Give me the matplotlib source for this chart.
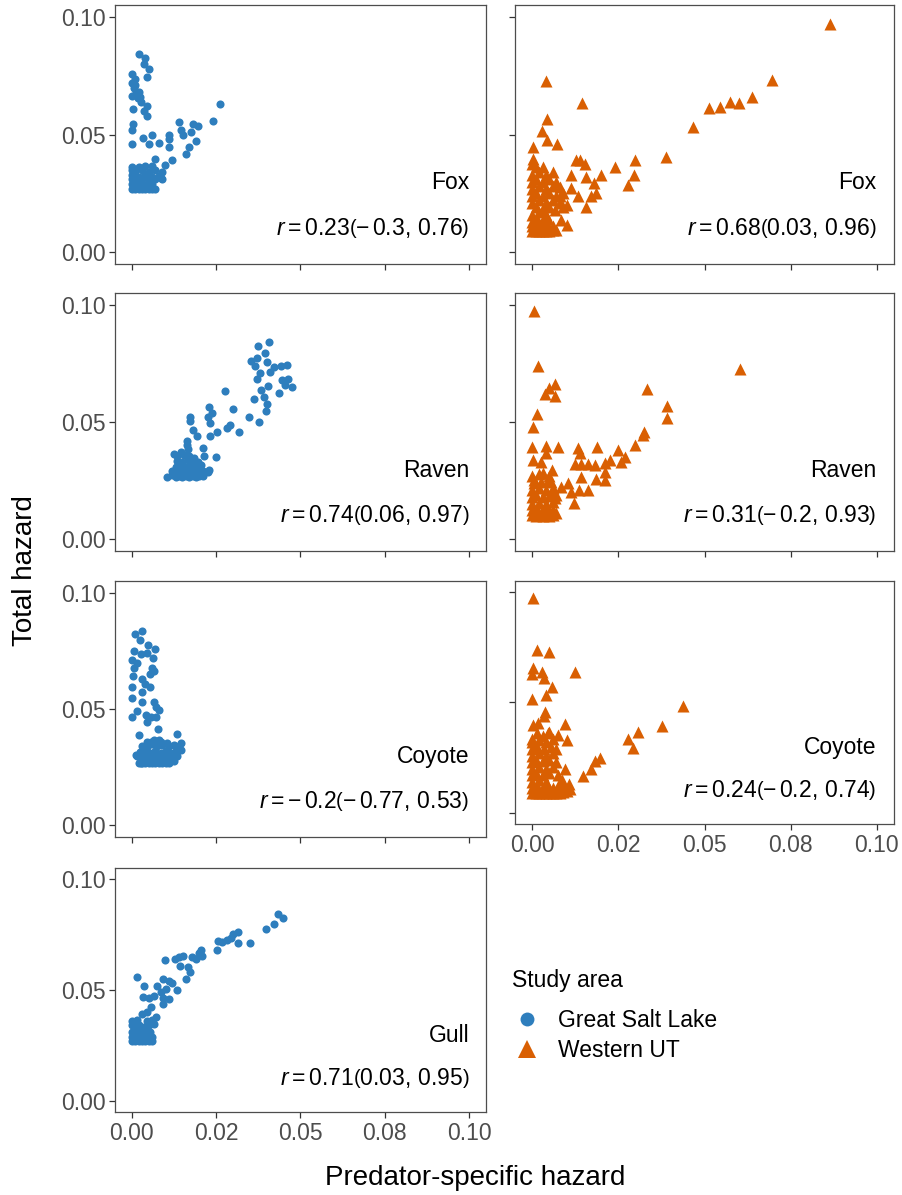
import matplotlib
matplotlib.use("Agg")
import matplotlib.pyplot as plt
from matplotlib.lines import Line2D

plt.rcParams['font.family'] = ['Liberation Sans', 'DejaVu Sans']
plt.rcParams['mathtext.fontset'] = 'custom'
plt.rcParams['mathtext.rm'] = 'Liberation Sans'
plt.rcParams['mathtext.it'] = 'Liberation Sans:italic'

BLUE = '#2E7EBD'
ORANGE = '#D95F02'

xtick_vals = [0, 0.025, 0.05, 0.075, 0.1]
xtick_labels = ['0.00', '0.02', '0.05', '0.08', '0.10']
ytick_vals = [0, 0.05, 0.1]
ytick_labels = ['0.00', '0.05', '0.10']

# ---- Great Salt Lake: Fox
gsl_fox_x = [0.002, 0.004, 0.0035, 0.005, 0.000, 0.001, 0.0045, 0.000, 0.0007, 0.000, 0.0017, 0.0027,
             0.0045, 0.0002, 0.0045, 0.0035, 0.0004, 0.000, 0.000, 0.0032, 0.006, 0.005, 0.008, 0.011,
             0.011, 0.011, 0.014, 0.0145, 0.0153, 0.018, 0.0195, 0.0175, 0.019, 0.017, 0.016, 0.024,
             0.026, 0.012, 0.0099, 0.007, 0.009, 0.001, 0.002, 0.0025, 0.0012,
             0.000, 0.001, 0.002, 0.003, 0.004, 0.005, 0.006, 0.007, 0.000, 0.002, 0.004, 0.006,
             0.000, 0.001, 0.003, 0.005, 0.007, 0.000, 0.002, 0.004, 0.006, 0.008, 0.000, 0.001,
             0.003, 0.005, 0.007, 0.000, 0.002, 0.004, 0.006, 0.001, 0.003, 0.005, 0.009, 0.0086]
gsl_fox_y = [0.084, 0.0825, 0.080, 0.0777, 0.0758, 0.0737, 0.0744, 0.072, 0.0697, 0.0665, 0.0654, 0.0637,
             0.0623, 0.0608, 0.058, 0.060, 0.0544, 0.052, 0.0459, 0.0487, 0.050, 0.046, 0.0463, 0.050,
             0.048, 0.0445, 0.0554, 0.052, 0.050, 0.0544, 0.0537, 0.0509, 0.0473, 0.0445, 0.0416, 0.0559,
             0.063, 0.039, 0.037, 0.0395, 0.031, 0.071, 0.068, 0.066, 0.0675,
             0.027, 0.027, 0.027, 0.027, 0.027, 0.027, 0.027, 0.027, 0.029, 0.029, 0.0285, 0.029,
             0.031, 0.030, 0.031, 0.0305, 0.031, 0.033, 0.032, 0.033, 0.032, 0.0325, 0.035, 0.034,
             0.035, 0.034, 0.035, 0.036, 0.036, 0.0365, 0.0365, 0.0325, 0.029, 0.0275, 0.034, 0.0316]

# ---- Western UT: Fox
wut_fox_x = [0.0864, 0.0697, 0.0639, 0.060, 0.0574, 0.0545, 0.0513, 0.0467, 0.0388, 0.0298, 0.0296,
             0.0277, 0.024, 0.020, 0.004, 0.0145, 0.0043, 0.0028, 0.0043, 0.0072, 0.0002, 0.0002,
             0.0127, 0.014, 0.0154, 0.0113, 0.0156, 0.018, 0.0113, 0.0132, 0.017, 0.0156, 0.0185,
             0.0084, 0.0101, 0.008, 0.009,
             0.000, 0.001, 0.002, 0.003, 0.004, 0.005, 0.006, 0.007, 0.000, 0.001, 0.002, 0.003,
             0.004, 0.005, 0.006, 0.000, 0.0015, 0.003, 0.0045, 0.000, 0.002, 0.004, 0.001, 0.003,
             0.005, 0.0065, 0.000, 0.002, 0.004, 0.006, 0.008, 0.010, 0.000, 0.001, 0.003, 0.005,
             0.007, 0.009, 0.000, 0.002, 0.004, 0.006, 0.008, 0.000, 0.001, 0.003, 0.005, 0.007,
             0.000, 0.002, 0.004, 0.006, 0.001, 0.000, 0.003]
wut_fox_y = [0.0971, 0.0733, 0.0658, 0.0634, 0.064, 0.0617, 0.0611, 0.0532, 0.0404, 0.039, 0.0329,
             0.0286, 0.0362, 0.0329, 0.0726, 0.0634, 0.0567, 0.0513, 0.0478, 0.046, 0.0445, 0.0397,
             0.039, 0.039, 0.0376, 0.0326, 0.0319, 0.0296, 0.0272, 0.0237, 0.0237, 0.0194, 0.0251,
             0.0138, 0.0116, 0.0237, 0.0194,
             0.009, 0.009, 0.009, 0.009, 0.009, 0.009, 0.0095, 0.0095, 0.011, 0.0115, 0.012, 0.011,
             0.012, 0.0105, 0.011, 0.013, 0.014, 0.0135, 0.014, 0.016, 0.017, 0.016, 0.019, 0.0185,
             0.019, 0.018, 0.021, 0.022, 0.021, 0.022, 0.021, 0.020, 0.024, 0.025, 0.024, 0.025,
             0.024, 0.025, 0.027, 0.028, 0.027, 0.028, 0.0275, 0.030, 0.031, 0.030, 0.031, 0.030,
             0.033, 0.034, 0.033, 0.034, 0.036, 0.0375, 0.036]

# ---- Great Salt Lake: Raven
gsl_raven_x = [0.0408, 0.0373, 0.0394, 0.0371, 0.0353, 0.040, 0.042, 0.0443, 0.0461, 0.041, 0.0366,
               0.0379, 0.0371, 0.0445, 0.0464, 0.0474, 0.0455, 0.0405, 0.0383, 0.0437, 0.0391, 0.0361,
               0.0402, 0.0397, 0.0277, 0.0346, 0.0378, 0.0299, 0.023, 0.0238, 0.0225, 0.0233, 0.0251,
               0.0233, 0.0282, 0.0292, 0.0317, 0.0171, 0.0172, 0.0182, 0.0194, 0.0162, 0.0212, 0.0248,
               0.0215, 0.0228,
               0.0103, 0.012, 0.013, 0.014, 0.015, 0.016, 0.017, 0.018, 0.019, 0.020, 0.021,
               0.012, 0.0135, 0.015, 0.0165, 0.018, 0.0195, 0.021, 0.0225, 0.013, 0.0145, 0.016,
               0.0175, 0.019, 0.0205, 0.0135, 0.015, 0.0165, 0.018, 0.0195, 0.0135, 0.0155, 0.017,
               0.0185, 0.0125, 0.0145, 0.0165, 0.0163]
gsl_raven_y = [0.084, 0.0826, 0.0796, 0.0775, 0.0761, 0.0754, 0.0734, 0.074, 0.0744, 0.0715, 0.0737,
               0.0708, 0.0683, 0.0677, 0.0683, 0.0648, 0.0658, 0.0654, 0.0637, 0.0623, 0.0606, 0.0597,
               0.0577, 0.0547, 0.0633, 0.0523, 0.0502, 0.0555, 0.0562, 0.0537, 0.0523, 0.0495, 0.0456,
               0.0441, 0.0474, 0.0488, 0.0459, 0.052, 0.0506, 0.0466, 0.0441, 0.0417, 0.0391, 0.035,
               0.0353, 0.0296,
               0.0264, 0.0275, 0.0265, 0.027, 0.0265, 0.027, 0.0265, 0.0268, 0.0265, 0.027, 0.0268,
               0.029, 0.0295, 0.029, 0.0295, 0.029, 0.0295, 0.029, 0.0285, 0.031, 0.0315, 0.031,
               0.0315, 0.031, 0.0315, 0.0335, 0.033, 0.034, 0.0335, 0.033, 0.0355, 0.036, 0.0355,
               0.0345, 0.0365, 0.037, 0.0385, 0.040]

# ---- Western UT: Raven
wut_raven_x = [0.0004, 0.0016, 0.0604, 0.0067, 0.005, 0.0036, 0.0065, 0.0332, 0.039, 0.0391, 0.0014,
               0.0002, 0.0324, 0.0321, 0.0299, 0.025, 0.0268, 0.0258, 0.0227, 0.021, 0.0188, 0.0134,
               0.014, 0.0123, 0.0142, 0.0161, 0.0183, 0.021, 0.0212, 0.0185, 0.0142, 0.0163, 0.0137,
               0.0103, 0.0084, 0.0113, 0.0121, 0.0074, 0.0039, 0.0039, 0.000, 0.0002, 0.0026, 0.0058,
               0.003, 0.0005, 0.0055, 0.0065, 0.0055,
               0.000, 0.001, 0.002, 0.003, 0.004, 0.005, 0.006, 0.007, 0.000, 0.0015, 0.003, 0.0045,
               0.006, 0.000, 0.002, 0.004, 0.006, 0.000, 0.001, 0.003, 0.005, 0.007, 0.000, 0.002,
               0.004, 0.006, 0.0005, 0.0025, 0.0045, 0.000, 0.002, 0.005]
wut_raven_y = [0.0972, 0.0737, 0.0725, 0.0661, 0.0644, 0.062, 0.0611, 0.064, 0.0569, 0.0516, 0.0533,
               0.048, 0.0459, 0.0445, 0.0402, 0.038, 0.0352, 0.033, 0.0338, 0.0326, 0.0395, 0.0388,
               0.0369, 0.0319, 0.0319, 0.0319, 0.0316, 0.0288, 0.0252, 0.0256, 0.0266, 0.0212, 0.0212,
               0.0238, 0.0224, 0.0202, 0.0155, 0.0395, 0.0398, 0.0366, 0.0395, 0.0338, 0.033, 0.0295,
               0.0281, 0.0252, 0.0245, 0.0174, 0.0195,
               0.0105, 0.010, 0.0105, 0.010, 0.0105, 0.010, 0.0105, 0.011, 0.0125, 0.013, 0.0125, 0.013,
               0.0125, 0.015, 0.0155, 0.015, 0.016, 0.018, 0.019, 0.018, 0.0185, 0.019, 0.021, 0.022,
               0.021, 0.022, 0.024, 0.0245, 0.025, 0.027, 0.028, 0.027]

# ---- Great Salt Lake: Coyote
gsl_coyote_x = [0.0031, 0.001, 0.0025, 0.0049, 0.0069, 0.0005, 0.0027, 0.0046, 0.0064, 0.000, 0.0015,
                0.0007, 0.0061, 0.0066, 0.0054, 0.0004, 0.0031, 0.0039, 0.0054, 0.000, 0.0031, 0.000,
                0.0029, 0.0066, 0.0071, 0.0081, 0.0015, 0.000, 0.0041, 0.0056, 0.0071, 0.0046, 0.0078,
                0.002, 0.0135, 0.0145, 0.0135, 0.0081, 0.0056, 0.0012, 0.0027,
                0.002, 0.003, 0.004, 0.005, 0.006, 0.007, 0.008, 0.009, 0.010, 0.011, 0.0125,
                0.0015, 0.003, 0.0045, 0.006, 0.0075, 0.009, 0.0105, 0.012, 0.0135, 0.0025, 0.004,
                0.0055, 0.007, 0.0085, 0.010, 0.0115, 0.013, 0.0145, 0.003, 0.0045, 0.006, 0.0075,
                0.009, 0.011, 0.0125, 0.014, 0.0045, 0.0065, 0.0085, 0.0105]
gsl_coyote_y = [0.0837, 0.0824, 0.0795, 0.0774, 0.0756, 0.0749, 0.0737, 0.0742, 0.0717, 0.0709, 0.0699,
                0.0678, 0.0678, 0.0664, 0.0649, 0.0642, 0.0628, 0.0607, 0.0593, 0.0593, 0.0571, 0.0546,
                0.0529, 0.0529, 0.0508, 0.0496, 0.0493, 0.0465, 0.0476, 0.0465, 0.0465, 0.0444, 0.0415,
                0.039, 0.0391, 0.0352, 0.0323, 0.0366, 0.0359, 0.0302, 0.0267,
                0.027, 0.027, 0.027, 0.027, 0.027, 0.027, 0.027, 0.027, 0.027, 0.027, 0.0275,
                0.030, 0.029, 0.0295, 0.029, 0.0295, 0.029, 0.0295, 0.029, 0.030, 0.0315, 0.032,
                0.031, 0.032, 0.031, 0.032, 0.031, 0.032, 0.0325, 0.034, 0.0335, 0.035, 0.034,
                0.0345, 0.034, 0.0345, 0.034, 0.036, 0.0365, 0.036, 0.0355]

# ---- Western UT: Coyote
wut_coyote_x = [0.0002, 0.0014, 0.005, 0.0123, 0.0002, 0.000, 0.0028, 0.0034, 0.0057, 0.0041, 0.000,
                0.0437, 0.0377, 0.0306, 0.0279, 0.0292, 0.0198, 0.0183, 0.0171, 0.0147, 0.0036, 0.0034,
                0.0002, 0.0016, 0.0096, 0.0101, 0.005, 0.0074, 0.000, 0.007, 0.0096, 0.0108,
                0.000, 0.001, 0.002, 0.003, 0.004, 0.005, 0.006, 0.007, 0.008, 0.009, 0.010, 0.011,
                0.000, 0.0015, 0.003, 0.0045, 0.006, 0.0075, 0.009, 0.000, 0.002, 0.004, 0.0085,
                0.000, 0.001, 0.003, 0.005, 0.0075, 0.000, 0.002, 0.004, 0.006, 0.000, 0.001, 0.003,
                0.005, 0.007, 0.000, 0.002, 0.004, 0.006, 0.000, 0.0015, 0.0035, 0.0055, 0.000, 0.002,
                0.004, 0.006, 0.0015, 0.003, 0.0045]
wut_coyote_y = [0.0972, 0.0736, 0.0728, 0.0639, 0.0654, 0.0631, 0.0639, 0.0613, 0.0569, 0.0534, 0.0515,
                0.0482, 0.0393, 0.0366, 0.0336, 0.0296, 0.0251, 0.0236, 0.0199, 0.0166, 0.0455, 0.044,
                0.040, 0.0407, 0.0404, 0.033, 0.0366, 0.0355, 0.0333, 0.0288, 0.0199, 0.0131,
                0.009, 0.009, 0.009, 0.009, 0.009, 0.009, 0.009, 0.009, 0.009, 0.0095, 0.010, 0.011,
                0.0115, 0.012, 0.0115, 0.012, 0.0115, 0.012, 0.0125, 0.014, 0.015, 0.014, 0.015,
                0.017, 0.018, 0.017, 0.018, 0.017, 0.020, 0.021, 0.020, 0.021, 0.023, 0.024, 0.0235,
                0.024, 0.023, 0.026, 0.027, 0.026, 0.027, 0.029, 0.030, 0.029, 0.030, 0.032, 0.033,
                0.032, 0.0335, 0.036, 0.035, 0.036]

# ---- Great Salt Lake: Gull
gsl_gull_x = [0.0433, 0.0447, 0.0422, 0.0399, 0.0351, 0.0315, 0.030, 0.0293, 0.0281, 0.0268, 0.0255,
              0.0315, 0.0251, 0.0204, 0.0199, 0.0209, 0.019, 0.0179, 0.0153, 0.014, 0.0127, 0.0098,
              0.0142, 0.0166, 0.0172, 0.016, 0.0015, 0.0036, 0.0093, 0.011, 0.0118, 0.0076, 0.0133,
              0.010, 0.0086, 0.0066, 0.0051, 0.0034, 0.0091, 0.011, 0.0093, 0.0056, 0.0031, 0.0046,
              0.0071,
              0.000, 0.001, 0.002, 0.003, 0.004, 0.005, 0.006, 0.000, 0.0015, 0.003, 0.0045, 0.006,
              0.000, 0.001, 0.0025, 0.004, 0.0055, 0.000, 0.002, 0.0035, 0.005, 0.0065, 0.000, 0.0015,
              0.0045, 0.006]
gsl_gull_y = [0.0842, 0.0824, 0.0797, 0.0775, 0.0711, 0.076, 0.0752, 0.0735, 0.0726, 0.0718, 0.072,
              0.0711, 0.0681, 0.0681, 0.0666, 0.0655, 0.064, 0.0648, 0.0655, 0.0648, 0.064, 0.0633,
              0.0606, 0.0603, 0.058, 0.055, 0.0558, 0.052, 0.055, 0.054, 0.0531, 0.052, 0.0501,
              0.0505, 0.0493, 0.0475, 0.0465, 0.0468, 0.0465, 0.046, 0.0438, 0.0423, 0.0393, 0.040,
              0.0378,
              0.027, 0.027, 0.027, 0.027, 0.027, 0.027, 0.027, 0.029, 0.0295, 0.029, 0.0295, 0.029,
              0.031, 0.032, 0.031, 0.032, 0.031, 0.034, 0.034, 0.0335, 0.034, 0.0345, 0.036, 0.0365,
              0.036, 0.0365]

predators = ['Fox', 'Raven', 'Coyote', 'Gull']
gsl_r = [r'$r = 0.23\left(-\,0.3,\,0.76\right)$', r'$r = 0.74\left(0.06,\,0.97\right)$',
         r'$r = -\,0.2\left(-\,0.77,\,0.53\right)$', r'$r = 0.71\left(0.03,\,0.95\right)$']
wut_r = [r'$r = 0.68\left(0.03,\,0.96\right)$', r'$r = 0.31\left(-\,0.2,\,0.93\right)$',
         r'$r = 0.24\left(-\,0.2,\,0.74\right)$']
areas = ['Great Salt Lake', 'Western UT']

W, H = 903, 1195


def rect(l, t, r, b):
    return [l / W, 1 - b / H, (r - l) / W, (b - t) / H]


# panel boxes in pixels (left, top, right, bottom)
left_boxes = [(115, 5, 486, 264), (115, 293, 486, 551), (115, 581, 486, 837), (115, 868, 486, 1112)]
right_boxes = [(515, 5, 894, 264), (515, 293, 894, 551), (515, 581, 894, 824)]

gsl_data = [(gsl_fox_x, gsl_fox_y), (gsl_raven_x, gsl_raven_y),
            (gsl_coyote_x, gsl_coyote_y), (gsl_gull_x, gsl_gull_y)]
wut_data = [(wut_fox_x, wut_fox_y), (wut_raven_x, wut_raven_y), (wut_coyote_x, wut_coyote_y)]

fig = plt.figure(figsize=(W / 100, H / 100), dpi=100)
FS = 16.5


def make_panel(box, xs, ys, marker, color, size, name, rtxt, xlab, ylab):
    ax = fig.add_axes(rect(*box))
    ax.scatter(xs, ys, s=size, marker=marker, c=color, linewidths=0, zorder=2)
    ax.set_xlim(-0.005, 0.105)
    ax.set_ylim(-0.005, 0.105)
    ax.set_xticks(xtick_vals)
    ax.set_yticks(ytick_vals)
    ax.set_xticklabels(xtick_labels if xlab else [])
    ax.set_yticklabels(ytick_labels if ylab else [])
    ax.tick_params(length=4, width=0.9, color='#333333', labelcolor='#4D4D4D',
                   labelsize=FS, pad=3)
    for s in ax.spines.values():
        s.set_color('#4D4D4D')
        s.set_linewidth(0.9)
    ax.text(0.1, 0.0295, name, ha='right', va='center', fontsize=FS)
    ax.text(0.1, 0.0105, rtxt, ha='right', va='center', fontsize=FS)
    return ax


for i, box in enumerate(left_boxes):
    xs, ys = gsl_data[i]
    make_panel(box, xs, ys, 'o', BLUE, 34, predators[i], gsl_r[i], i == 3, True)

for i, box in enumerate(right_boxes):
    xs, ys = wut_data[i]
    make_panel(box, xs, ys, '^', ORANGE, 75, predators[i], wut_r[i], i == 2, False)

fig.text(25 / W, 1 - 571 / H, 'Total hazard', rotation=90, ha='center', va='center', fontsize=20)
fig.text(475 / W, 1 - 1178 / H, 'Predator-specific hazard', ha='center', va='center', fontsize=20)

# legend: title drawn separately so its gap to the keys can be set
fig.text(512 / W, 1 - 980 / H, 'Study area', ha='left', va='center', fontsize=FS)
handles = [Line2D([], [], marker='o', ls='', color=BLUE, markersize=10, markeredgewidth=0),
           Line2D([], [], marker='^', ls='', color=ORANGE, markersize=13, markeredgewidth=0)]
fig.legend(handles, areas, loc='upper left', bbox_to_anchor=(513 / W, 1 - 1009 / H),
           frameon=False, fontsize=FS, handlelength=1.2, handletextpad=0.75,
           labelspacing=0.3, borderaxespad=0, borderpad=0)

fig.savefig('out.png', dpi=100)
